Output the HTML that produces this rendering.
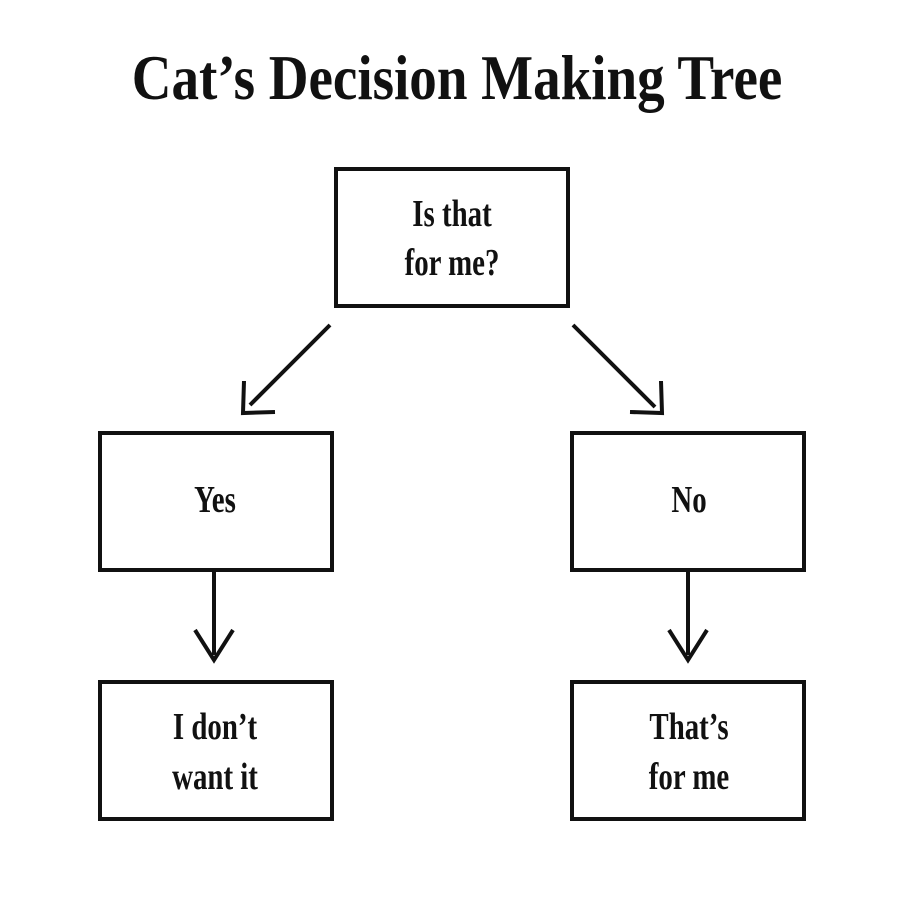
<!DOCTYPE html>
<html><head><style>
body{margin:0;background:#fff;}
svg{display:block}
text{font-family:"Liberation Serif",serif;fill:#111;}
</style></head><body>
<svg width="900" height="900" viewBox="0 0 900 900" xmlns="http://www.w3.org/2000/svg">
<rect width="900" height="900" fill="#fff"/>
<text x="457" y="99" font-size="64" font-weight="bold" text-anchor="middle" transform="translate(457,0) scale(0.86,1) translate(-457,0)">Cat’s Decision Making Tree</text>
<g fill="none" stroke="#111" stroke-width="4">
<rect x="336" y="169" width="232" height="137"/>
<rect x="100" y="433" width="232" height="137"/>
<rect x="572" y="433" width="232" height="137"/>
<rect x="100" y="682" width="232" height="137"/>
<rect x="572" y="682" width="232" height="137"/>
<line x1="330" y1="325" x2="250" y2="405"/>
<line x1="573" y1="325" x2="655" y2="407"/>
<line x1="214" y1="572" x2="214" y2="655"/>
<line x1="688" y1="572" x2="688" y2="655"/>
<polyline points="244,381 243,413 275,412"/>
<polyline points="630,412 662,413 661,381"/>
<polyline points="195,630 214,660 233,630"/>
<polyline points="669,630 688,660 707,630"/>
</g>
<g font-size="38" text-anchor="middle" font-weight="bold">
<text transform="translate(452,226) scale(0.76,1)">Is that</text>
<text transform="translate(452,275) scale(0.76,1)">for me?</text>
<text transform="translate(215,512) scale(0.76,1)">Yes</text>
<text transform="translate(689,512) scale(0.76,1)">No</text>
<text transform="translate(215,739) scale(0.76,1)">I don’t</text>
<text transform="translate(215,789) scale(0.76,1)">want it</text>
<text transform="translate(689,739) scale(0.76,1)">That’s</text>
<text transform="translate(689,789) scale(0.76,1)">for me</text>
</g>
</svg>
</body></html>
